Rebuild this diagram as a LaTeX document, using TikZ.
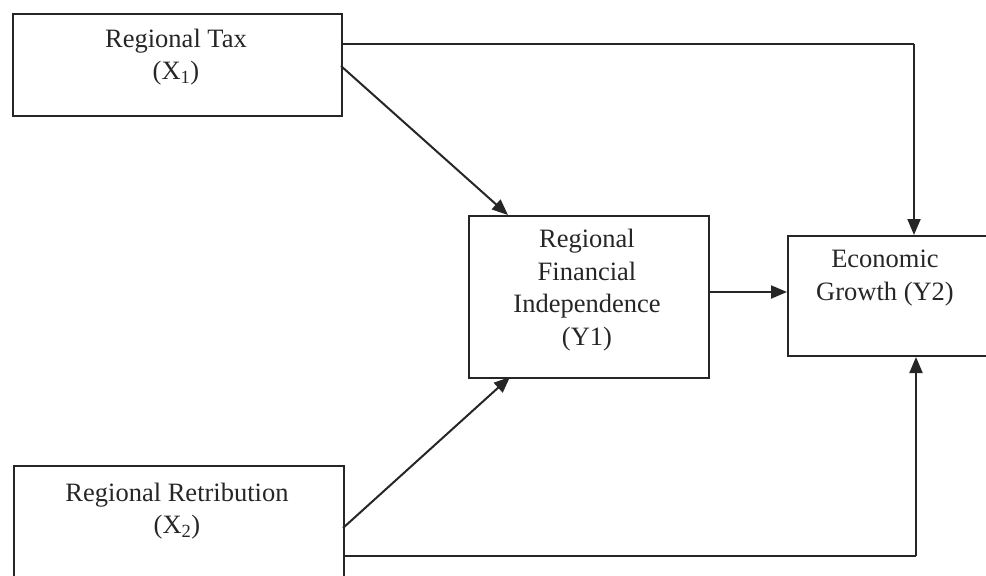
\documentclass[tikz,border=0pt]{standalone}
\usepackage{fontspec}
\setmainfont{Liberation Serif}
\usetikzlibrary{arrows.meta}
\begin{document}
\begin{tikzpicture}[x=1pt,y=-1pt,
  box/.style={draw=black!85,line width=2pt,fill=none},
  txt/.style={inner sep=0pt,align=center,font=\fontsize{26.5}{32.5}\selectfont,text=black!85},
  conn/.style={draw=black!85,line width=2pt,-{Triangle[length=16pt,width=13pt]}},
  line/.style={draw=black!85,line width=2pt}]
\useasboundingbox (0,0) rectangle (986,576);
\clip (0,0) rectangle (986,576);
% boxes
\node[box,minimum width=329pt,minimum height=102pt,anchor=north west] (x1) at (12,13) {};
\node[box,minimum width=330pt,minimum height=160pt,anchor=north west] (x2) at (13,465) {};
\node[box,minimum width=240pt,minimum height=162pt,anchor=north west] (y1) at (468,215) {};
\node[box,minimum width=260pt,minimum height=120pt,anchor=north west] (y2) at (787,235) {};
% texts
\node[txt] (tx1) at (176,57) {Regional Tax\\(X\textsubscript{1})};
\node[txt] (tx2) at (177,511) {Regional Retribution\\(X\textsubscript{2})};
\node[txt] (ty1) at (587,290) {Regional\\Financial\\Independence\\(Y1)};
\node[txt] (ty2) at (885,278) {Economic\\Growth (Y2)};
% connector corners
\coordinate (c1) at (914,44);
\coordinate (c2) at (916,556);
% connectors
\draw[line] (x1.north east |- c1) -- (c1);
\draw[conn] (c1) -- (c1 |- y2.north);
\draw[conn] (341,66) -- (508,215);
\draw[conn] (y1.east |- 0,292) -- (y2.west |- 0,292);
\draw[conn] (343,528) -- (510,377);
\draw[line] (x2.east |- c2) -- (c2);
\draw[conn] (c2) -- (c2 |- y2.south);
\end{tikzpicture}
\end{document}
